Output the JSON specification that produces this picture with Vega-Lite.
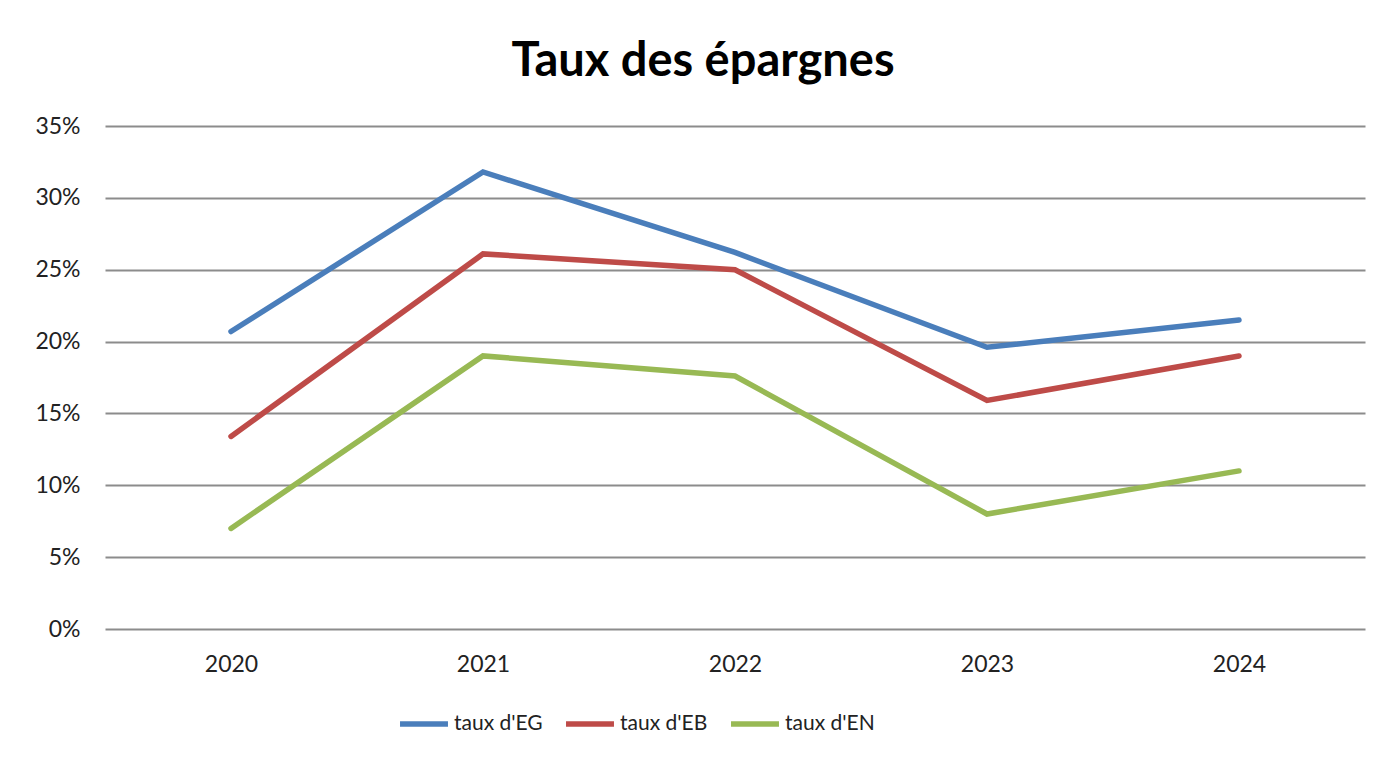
{
  "$schema": "https://vega.github.io/schema/vega-lite/v6.json",
  "width": 1260,
  "height": 503,
  "autosize": {"type": "none"},
  "padding": {"left": 105, "top": 126, "right": 10, "bottom": 134},
  "background": "white",
  "title": {
    "text": "Taux des épargnes",
    "fontSize": 47,
    "font": "Lato",
    "fontWeight": "bold",
    "color": "#000000",
    "anchor": "middle",
    "dx": -32,
    "offset": 29
  },
  "data": {
    "values": [
      {"annee": "2020", "serie": "taux d'EG", "taux": 0.207},
      {"annee": "2021", "serie": "taux d'EG", "taux": 0.318},
      {"annee": "2022", "serie": "taux d'EG", "taux": 0.262},
      {"annee": "2023", "serie": "taux d'EG", "taux": 0.196},
      {"annee": "2024", "serie": "taux d'EG", "taux": 0.215},
      {"annee": "2020", "serie": "taux d'EB", "taux": 0.134},
      {"annee": "2021", "serie": "taux d'EB", "taux": 0.261},
      {"annee": "2022", "serie": "taux d'EB", "taux": 0.250},
      {"annee": "2023", "serie": "taux d'EB", "taux": 0.159},
      {"annee": "2024", "serie": "taux d'EB", "taux": 0.190},
      {"annee": "2020", "serie": "taux d'EN", "taux": 0.070},
      {"annee": "2021", "serie": "taux d'EN", "taux": 0.190},
      {"annee": "2022", "serie": "taux d'EN", "taux": 0.176},
      {"annee": "2023", "serie": "taux d'EN", "taux": 0.080},
      {"annee": "2024", "serie": "taux d'EN", "taux": 0.110}
    ]
  },
  "mark": {"type": "line", "strokeWidth": 5.5, "strokeCap": "round", "strokeJoin": "miter"},
  "encoding": {
    "x": {
      "field": "annee",
      "type": "ordinal",
      "scale": {"type": "point", "padding": 0.5},
      "axis": {
        "title": null,
        "domain": false,
        "ticks": false,
        "grid": false,
        "labelAngle": 0,
        "labelFontSize": 23,
        "labelFont": "Lato",
        "labelColor": "#222222",
        "labelPadding": 24
      }
    },
    "y": {
      "field": "taux",
      "type": "quantitative",
      "scale": {"domain": [0, 0.35], "nice": false},
      "axis": {
        "title": null,
        "format": ".0%",
        "values": [0, 0.05, 0.1, 0.15, 0.2, 0.25, 0.3, 0.35],
        "domain": false,
        "ticks": false,
        "grid": true,
        "gridColor": "#8c8c8c",
        "gridWidth": 2,
        "labelFontSize": 23,
        "labelFont": "Lato",
        "labelColor": "#222222",
        "labelPadding": 25
      }
    },
    "color": {
      "field": "serie",
      "type": "nominal",
      "sort": ["taux d'EG", "taux d'EB", "taux d'EN"],
      "scale": {
        "domain": ["taux d'EG", "taux d'EB", "taux d'EN"],
        "range": ["#4a7ebb", "#be4b48", "#98b954"]
      },
      "legend": {
        "title": null,
        "orient": "none",
        "direction": "horizontal",
        "legendX": 292,
        "legendY": 571,
        "symbolType": "stroke",
        "symbolSize": 2300,
        "symbolStrokeWidth": 5.5,
        "labelFontSize": 21,
        "labelFont": "Lato",
        "labelColor": "#222222",
        "labelOffset": 3,
        "columnPadding": 12
      }
    }
  },
  "config": {
    "view": {"stroke": null}
  }
}
